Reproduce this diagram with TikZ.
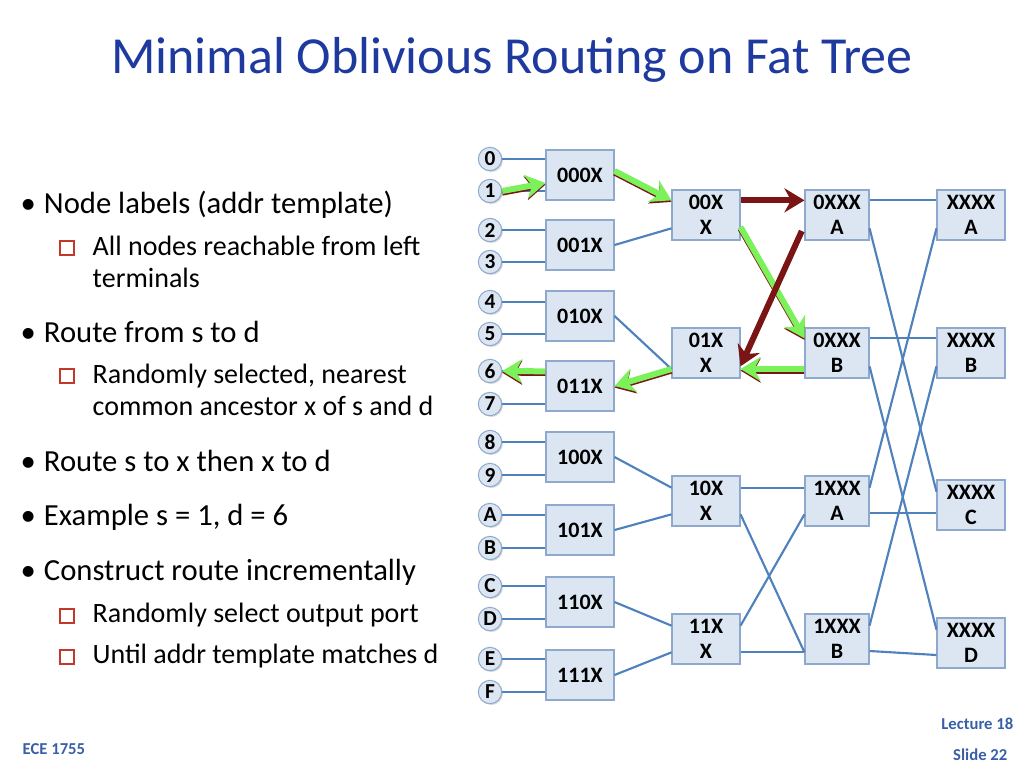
\documentclass[tikz,border=0pt]{standalone}
\usepackage{fontspec}
\setmainfont{Carlito}
\usetikzlibrary{arrows.meta,shadows}
\definecolor{ttl}{HTML}{1F3A9F}
\definecolor{lnk}{HTML}{4F81BD}
\definecolor{bfill}{HTML}{DCE6F2}
\definecolor{bdraw}{HTML}{8EA9CC}
\definecolor{dred}{HTML}{7B1414}
\definecolor{grn}{HTML}{7CF25A}
\definecolor{sq}{HTML}{C0392B}
\definecolor{foot}{HTML}{3A5FA8}
\tikzset{
 box/.style={draw=bdraw,fill=bfill,line width=0.8pt,minimum width=51pt,minimum height=37.5pt,inner sep=0pt,align=center,font=\bfseries\fontsize{16.5}{19}\selectfont,drop shadow={shadow xshift=1pt,shadow yshift=-1pt,opacity=0.3}},
 term/.style={circle,draw=bdraw,fill=bfill,line width=0.8pt,minimum size=17.5pt,inner sep=0pt,font=\bfseries\fontsize{16}{16}\selectfont,drop shadow={shadow xshift=1pt,shadow yshift=-1pt,opacity=0.3}},
 lk/.style={draw=lnk,line width=1.6pt},
 garrow/.style={draw=grn,line width=4.5pt,-{Stealth[length=15pt,width=18pt]},preaction={draw=dred,line width=4.5pt,transform canvas={yshift=-1.2pt}}},
 rarrow/.style={draw=dred,line width=4.5pt,-{Stealth[length=15pt,width=18pt]}},
 bul/.style={anchor=west,font=\fontsize{23}{27}\selectfont},
 sub/.style={anchor=west,font=\fontsize{21}{24}\selectfont,align=left},
 sqm/.style={draw=sq,line width=1.3pt,minimum size=10pt,inner sep=0pt,fill=white,drop shadow={shadow xshift=1.2pt,shadow yshift=-1.2pt,fill=sq!80!black,opacity=1}},
}
\begin{document}
\begin{tikzpicture}[x=0.75pt,y=-0.75pt]
\useasboundingbox (0,0) rectangle (1024,768);
\node[text=ttl,font=\fontsize{39}{44}\selectfont] (title) at (512,60) {Minimal Oblivious Routing on Fat Tree};
% bullets
\node[bul] (t1) at (16,205) {\textbullet\hspace{6pt}Node labels (addr template)};
\node[sqm] (q1) at (67,248) {};
\node[sub] (s1) at (88,262) {All nodes reachable from left\\terminals};
\node[bul] (t2) at (16,332) {\textbullet\hspace{6pt}Route from s to d};
\node[sqm] (q2) at (67,376) {};
\node[sub] (s2) at (88,390) {Randomly selected, nearest\\common ancestor x of s and d};
\node[bul] (t3) at (16,461) {\textbullet\hspace{6pt}Route s to x then x to d};
\node[bul] (t4) at (16,517) {\textbullet\hspace{6pt}Example s = 1, d = 6};
\node[bul] (t5) at (16,572) {\textbullet\hspace{6pt}Construct route incrementally};
\node[sqm] (q3) at (67,616) {};
\node[sub] (s3) at (88,615) {Randomly select output port};
\node[sqm] (q4) at (67,657) {};
\node[sub] (s4) at (88,656) {Until addr template matches d};
% footer
\node[text=foot,font=\bfseries\fontsize{12.5}{14}\selectfont,anchor=west] (f1) at (18,749) {ECE 1755};
\node[text=foot,font=\bfseries\fontsize{12.5}{14}\selectfont,anchor=east] (f2) at (1018,724) {Lecture 18};
\node[text=foot,font=\bfseries\fontsize{12.5}{14}\selectfont,anchor=east] (f3) at (1012,755) {Slide 22};
% level 1 boxes
\foreach \n/\y in {000X/175,001X/245,010X/316,011X/386,100X/457,101X/530,110X/602,111X/675}
  \node[box] (b\n) at (580,\y) {\n};
% terminals links
\foreach \t/\y/\b in {0/159/000X,1/191/000X,2/230/001X,3/262/001X,4/302/010X,5/334/010X,6/371/011X,7/404/011X,8/442/100X,9/475/100X,A/515/101X,B/548/101X,C/586/110X,D/619/110X,E/659/111X,F/692/111X}{
  \node[term] (t\t) at (490,\y) {\t};
  \draw[lk] (t\t.east) -- (t\t.east -| b\b.west);
}
% level 2
\node[box] (c00) at (706,215) {00X\\X};
\node[box] (c01) at (706,353) {01X\\X};
\node[box] (c10) at (706,501) {10X\\X};
\node[box] (c11) at (706,639) {11X\\X};
% level 3
\node[box,minimum width=48pt] (d0A) at (837,215) {0XXX\\A};
\node[box,minimum width=48pt] (d0B) at (837,353) {0XXX\\B};
\node[box,minimum width=48pt] (d1A) at (837,501) {1XXX\\A};
\node[box,minimum width=48pt] (d1B) at (837,639) {1XXX\\B};
% level 4
\node[box] (eA) at (971,215) {XXXX\\A};
\node[box] (eB) at (971,353) {XXXX\\B};
\node[box] (eC) at (971,505) {XXXX\\C};
\node[box] (eD) at (971,643) {XXXX\\D};
% level1 -> level2 links
\draw[lk] (b001X.east) -- ([yshift=-10pt]c00.west);
\draw[lk] (b010X.east) -- ([yshift=-12pt]c01.west);
\draw[lk] (b100X.east) -- ([yshift=10pt]c10.west);
\draw[lk] (b101X.east) -- ([yshift=-10pt]c10.west);
\draw[lk] (b110X.east) -- ([yshift=10pt]c11.west);
\draw[lk] (b111X.east) -- ([yshift=-10pt]c11.west);
% level2 -> level3
\draw[lk] ([yshift=10pt]c10.east) -- ([yshift=10pt]d1A.west);
\draw[lk] ([yshift=-10pt]c10.east) -- ([yshift=-10pt]d1B.west);
\draw[lk] ([yshift=10pt]c11.east) -- ([yshift=-10pt]d1A.west);
\draw[lk] ([yshift=-10pt]c11.east) -- ([yshift=-10pt]d1B.west);
% level3 -> level4
\draw[lk] ([yshift=11pt]d0A.east) -- ([yshift=11pt]eA.west);
\draw[lk] ([yshift=-10pt]d0A.east) -- ([yshift=10pt]eC.west);
\draw[lk] ([yshift=11pt]d0B.east) -- ([yshift=11pt]eB.west);
\draw[lk] ([yshift=-10pt]d0B.east) -- ([yshift=10pt]eD.west);
\draw[lk] ([yshift=-10pt]eA.west) -- ([yshift=10pt]d1A.east);
\draw[lk] ([yshift=-10pt]eB.west) -- ([yshift=10pt]d1B.east);
\draw[lk] ([yshift=-9pt]d1A.east) -- ([yshift=-6pt]eC.west);
\draw[lk] ([yshift=-9pt]d1B.east) -- ([yshift=-9pt]eD.west);
% route arrows
\draw[garrow] (t1.east) -- ([yshift=-6pt]b000X.west);
\draw[garrow] ([yshift=3pt]b000X.east) -- ([yshift=11pt]c00.west);
\draw[rarrow] ([yshift=11pt]c00.east) -- ([yshift=11pt]d0A.west);
\draw[garrow] ([yshift=-9pt]c00.east) -- ([yshift=11pt]d0B.west);
\draw[rarrow] ([yshift=-12pt,xshift=-2pt]d0A.west) -- ([yshift=-10pt]c01.east);
\draw[garrow] ([yshift=-12pt]d0B.west) -- ([yshift=-12pt]c01.east);
\draw[garrow] ([yshift=-12pt]c01.west) -- ([yshift=0pt]b011X.east);
\draw[garrow] ([yshift=11pt]b011X.west) -- (t6.east);
\end{tikzpicture}
\end{document}
